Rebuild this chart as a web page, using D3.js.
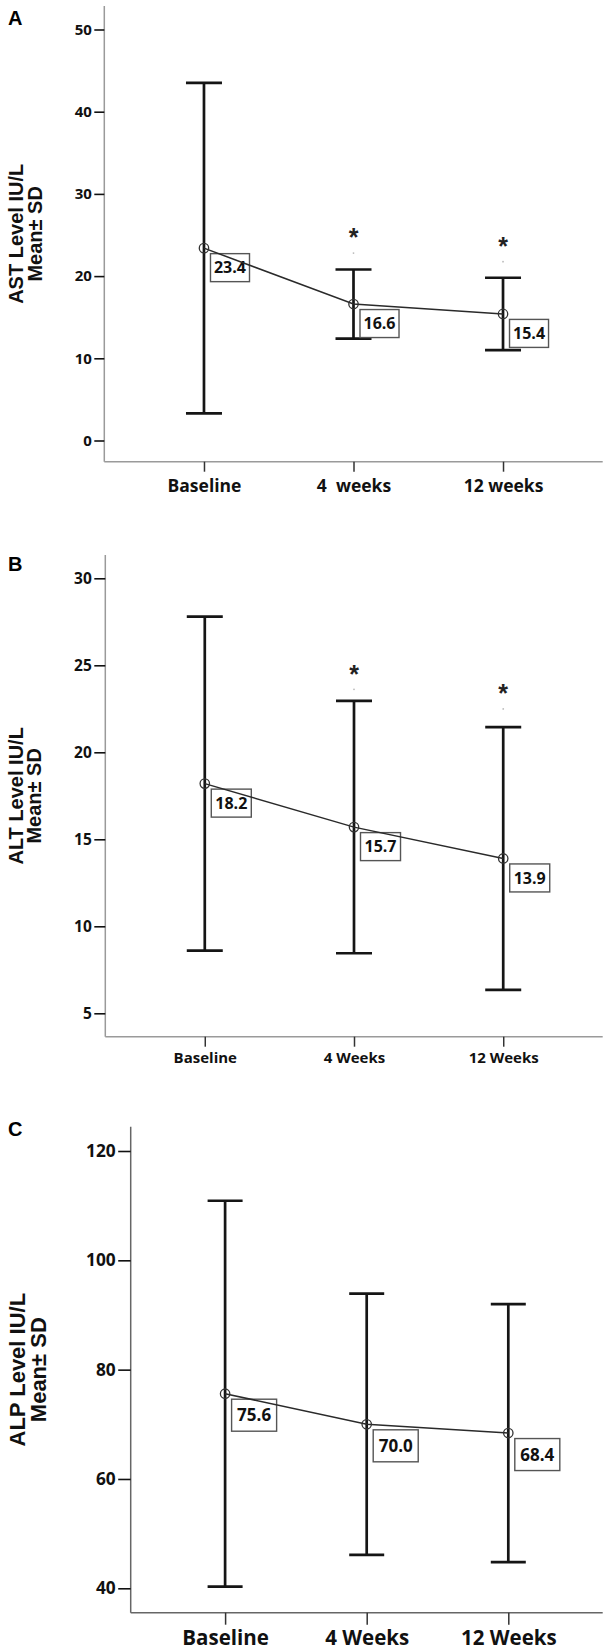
<!DOCTYPE html>
<html><head><meta charset="utf-8">
<script src="https://cdn.jsdelivr.net/npm/d3@7"></script>
<style>body{margin:0;background:#fff}svg{display:block}</style>
</head><body>
<svg id="chart" width="609" height="1652"></svg>
<script>
// ---------- data ----------
const categoriesA = ["Baseline", "4  weeks", "12 weeks"];
const meansA = [23.4, 16.6, 15.4];
const sdA = [20.1, 4.2, 4.4];
const starsA = [null, 25.4, 24.3];
const dotsA = [null, 22.8, 21.75];
const ticksA = [0, 10, 20, 30, 40, 50];

const categoriesB = ["Baseline", "4 Weeks", "12 Weeks"];
const meansB = [18.2, 15.7, 13.9];
const sdB = [9.6, 7.25, 7.55];
const starsB = [null, 24.77, 23.68];
const dotsB = [null, 23.62, 22.49];
const ticksB = [5, 10, 15, 20, 25, 30];

const categoriesC = ["Baseline", "4 Weeks", "12 Weeks"];
const meansC = [75.6, 70.0, 68.4];
const sdC = [35.3, 23.9, 23.6];
const starsC = [null, null, null];
const dotsC = [null, null, null];
const ticksC = [40, 60, 80, 100, 120];

const titlesA = ["AST Level IU/L", "Mean\u00B1 SD"];
const titlesB = ["ALT Level IU/L", "Mean\u00B1 SD"];
const titlesC = ["ALP Level IU/L", "Mean\u00B1 SD"];

// ---------- layout ----------
const panels = [
  {letter: "A", cats: categoriesA, means: meansA, sd: sdA, stars: starsA, dots: dotsA, ticks: ticksA, titles: titlesA,
   lay: {letterY: 24.5, left: 104.3, right: 602.7, top: 6, bottom: 461.7, tickLo: 0, tickHi: 50, pxLo: 440.5, pxHi: 29.5,
         xLabelY: 491.7, xFont: 17.5, yFont: 15, lblFont: 16, titleFont: 20, titleX: [22.5, 41.5], capHalf: 18,
         axisColor: "#9a9a9a", yTickLen: 10, xTickLen: 10, boxPadX: 3.5, boxH: 28}},
  {letter: "B", cats: categoriesB, means: meansB, sd: sdB, stars: starsB, dots: dotsB, ticks: ticksB, titles: titlesB,
   lay: {letterY: 570.5, left: 105.3, right: 602.7, top: 555, bottom: 1036.7, tickLo: 5, tickHi: 30, pxLo: 1013.3, pxHi: 578.3,
         xLabelY: 1063.3, xFont: 15, yFont: 15.5, lblFont: 16, titleFont: 20, titleX: [22.5, 40.5], capHalf: 18,
         axisColor: "#9a9a9a", yTickLen: 11, xTickLen: 10, boxPadX: 4, boxH: 28}},
  {letter: "C", cats: categoriesC, means: meansC, sd: sdC, stars: starsC, dots: dotsC, ticks: ticksC, titles: titlesC,
   lay: {letterY: 1135.5, left: 130.7, right: 602.7, top: 1126.7, bottom: 1612.7, tickLo: 40, tickHi: 120, pxLo: 1588.3, pxHi: 1151,
         xLabelY: 1645, xFont: 20.5, yFont: 17.3, lblFont: 17, titleFont: 22, titleX: [24.5, 46], capHalf: 17.5,
         axisColor: "#666", yTickLen: 12.5, xTickLen: 12, boxPadX: 5.5, boxH: 32}}
];

const svg = d3.select("#chart");
const TICKFONT = "'Open Sans', 'Noto Sans', sans-serif";
const TITLEFONT = "'Liberation Sans', Arial, sans-serif";

panels.forEach(p => {
  const L = p.lay;
  const g = svg.append("g");
  const x = d3.scalePoint().domain(p.cats).range([L.left, L.right]).padding(2 / 3);
  const y = d3.scaleLinear().domain([L.tickLo, L.tickHi]).range([L.pxLo, L.pxHi]);

  // panel letter
  g.append("text").attr("x", 8).attr("y", L.letterY).text(p.letter)
    .attr("font-family", TITLEFONT).attr("font-weight", "bold").attr("font-size", 20).attr("fill", "#000");

  // axis lines
  g.append("line").attr("x1", L.left).attr("x2", L.left).attr("y1", L.top).attr("y2", L.bottom)
    .attr("stroke", L.axisColor).attr("stroke-width", 1.5);
  g.append("line").attr("x1", L.left).attr("x2", L.right).attr("y1", L.bottom).attr("y2", L.bottom)
    .attr("stroke", L.axisColor).attr("stroke-width", 1.5);

  // y axis ticks
  const ya = g.append("g").attr("transform", `translate(${L.left},0)`)
    .call(d3.axisLeft(y).tickValues(p.ticks).tickSize(L.yTickLen).tickPadding(2.5).tickFormat(d3.format("d")));
  ya.select(".domain").remove();
  ya.selectAll(".tick line").attr("stroke", "#111").attr("stroke-width", 1.6);
  ya.selectAll(".tick text").attr("font-family", TICKFONT).attr("font-weight", "bold")
    .attr("font-size", L.yFont).attr("fill", "#111");

  // x axis ticks
  const xa = g.append("g").attr("transform", `translate(0,${L.bottom})`)
    .call(d3.axisBottom(x).tickSize(L.xTickLen));
  xa.select(".domain").remove();
  xa.selectAll(".tick line").attr("stroke", "#333").attr("stroke-width", 1.5);
  xa.selectAll(".tick text").attr("y", L.xLabelY - L.bottom).attr("dy", 0)
    .attr("font-family", TICKFONT).attr("font-weight", "bold").attr("font-size", L.xFont)
    .attr("fill", "#111").style("white-space", "pre");

  // y title (two rotated lines)
  const cy = (L.top + L.bottom) / 2;
  p.titles.forEach((t, i) => {
    g.append("text").attr("transform", `translate(${L.titleX[i]},${cy}) rotate(-90)`)
      .attr("text-anchor", "middle").text(t)
      .attr("font-family", TITLEFONT).attr("font-weight", "bold").attr("font-size", L.titleFont).attr("fill", "#111");
  });

  const data = p.cats.map((c, i) => ({c, m: p.means[i], sd: p.sd[i], star: p.stars[i], dot: p.dots[i]}));

  // error bars
  const eb = g.append("g").attr("stroke", "#151515").attr("stroke-width", 2.7).attr("fill", "none");
  data.forEach(d => {
    const cx = x(d.c);
    eb.append("line").attr("x1", cx).attr("x2", cx).attr("y1", y(d.m + d.sd)).attr("y2", y(d.m - d.sd));
    eb.append("line").attr("x1", cx - L.capHalf).attr("x2", cx + L.capHalf).attr("y1", y(d.m + d.sd)).attr("y2", y(d.m + d.sd));
    eb.append("line").attr("x1", cx - L.capHalf).attr("x2", cx + L.capHalf).attr("y1", y(d.m - d.sd)).attr("y2", y(d.m - d.sd));
  });

  // value label boxes
  data.forEach(d => {
    const bx = x(d.c) + 6.5, by = y(d.m) + 5.5;
    const lg = g.append("g");
    const rect = lg.append("rect").attr("x", bx).attr("y", by).attr("height", L.boxH)
      .attr("fill", "#fff").attr("stroke", "#555").attr("stroke-width", 1.4);
    const txt = lg.append("text").text(d3.format(".1f")(d.m))
      .attr("font-family", TICKFONT).attr("font-weight", "bold").attr("font-size", L.lblFont).attr("fill", "#111")
      .attr("y", by + L.boxH / 2).attr("dy", "0.36em");
    const w = txt.node().getComputedTextLength();
    rect.attr("width", w + 2 * L.boxPadX);
    txt.attr("x", bx + L.boxPadX);
  });

  // mean line
  g.append("path").datum(data)
    .attr("d", d3.line().x(d => x(d.c)).y(d => y(d.m)))
    .attr("fill", "none").attr("stroke", "#2a2a2a").attr("stroke-width", 1.5);

  // mean markers
  g.selectAll("circle.mean").data(data).join("circle").attr("class", "mean")
    .attr("cx", d => x(d.c)).attr("cy", d => y(d.m)).attr("r", 4.7)
    .attr("fill", "none").attr("stroke", "#333").attr("stroke-width", 1.3);

  // significance stars and faint dots
  data.filter(d => d.star != null).forEach(d => {
    g.append("text").attr("x", x(d.c)).attr("y", y(d.star) + 14).attr("text-anchor", "middle").text("*")
      .attr("font-family", TITLEFONT).attr("font-weight", "bold").attr("font-size", 25).attr("fill", "#222");
  });
  data.filter(d => d.dot != null).forEach(d => {
    g.append("circle").attr("cx", x(d.c)).attr("cy", y(d.dot)).attr("r", 0.9).attr("fill", "#bbb");
  });
});
</script>
</body></html>
